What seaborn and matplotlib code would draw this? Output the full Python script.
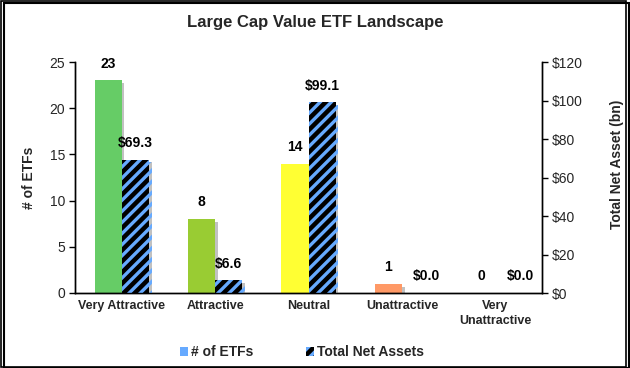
import matplotlib
matplotlib.use("Agg")
import matplotlib.pyplot as plt
import matplotlib.patheffects as pe
from matplotlib.patches import Rectangle, Patch
from matplotlib.ticker import FuncFormatter, FixedLocator
import seaborn as sns
import pandas as pd
import numpy as np

categories = ["Very Attractive", "Attractive", "Neutral", "Unattractive", "Very\nUnattractive"]
num_etfs = [23, 8, 14, 1, 0]
net_assets = [69.3, 6.6, 99.1, 0.0, 0.0]
series = ["# of ETFs", "Total Net Assets"]
count_colors = ["#66CC66", "#99CC33", "#FFFF33", "#FF9966", "#BBBBBB"]
asset_face = "#000000"
asset_hatch = "#66AAFF"

sns.set_theme(style="white")
plt.rcParams["font.family"] = ["Liberation Sans", "DejaVu Sans"]
plt.rcParams["hatch.linewidth"] = 2.4

fig = plt.figure(figsize=(6.3, 3.68), dpi=100)
ax = fig.add_axes([75/630, 1-293/368, (542-75)/630, (293-62)/368])
ax2 = ax.twinx()

df_c = pd.DataFrame({"cat": categories * 2,
                     "series": [series[0]] * 5 + [series[1]] * 5,
                     "val": num_etfs + [np.nan] * 5})
df_a = pd.DataFrame({"cat": categories * 2,
                     "series": [series[0]] * 5 + [series[1]] * 5,
                     "val": [np.nan] * 5 + net_assets})

shadow = [pe.SimplePatchShadow(offset=(2, -2), shadow_rgbFace="#999999", alpha=0.6), pe.Normal()]

sns.barplot(data=df_c, x="cat", y="val", hue="series", hue_order=series, order=categories,
            ax=ax, width=0.58, legend=False, errorbar=None, saturation=1)
sns.barplot(data=df_a, x="cat", y="val", hue="series", hue_order=series, order=categories,
            ax=ax2, width=0.58, legend=False, errorbar=None, saturation=1)

cbars = [p for p in ax.patches if np.isfinite(p.get_height())]
cbars = sorted(cbars, key=lambda p: p.get_x())
for p, col, v in zip(cbars, count_colors, num_etfs):
    p.set_facecolor(col)
    p.set_edgecolor("none")
    p.set_path_effects(shadow)
    ax.annotate(f"{v}", (p.get_x() + p.get_width()/2, p.get_height()), xytext=(0, 7),
                textcoords="offset points", ha="center", va="bottom",
                fontsize=10, fontweight="bold", color="black")
abars = [p for p in ax2.patches if np.isfinite(p.get_height())]
abars = sorted(abars, key=lambda p: p.get_x())
for p, v in zip(abars, net_assets):
    p.set_facecolor(asset_face)
    p.set_edgecolor(asset_hatch)
    p.set_linewidth(0)
    p.set_hatch("///")
    p.set_path_effects(shadow)
    dx = 8 if v == 0 else 0
    ax2.annotate(f"${v:.1f}", (p.get_x() + p.get_width()/2, p.get_height()), xytext=(dx, 7),
                 textcoords="offset points", ha="center", va="bottom",
                 fontsize=10, fontweight="bold", color="black")

ax.set_ylim(0, 25)
ax.set_yticks(range(0, 26, 5))
ax2.set_ylim(0, 120)
ax2.set_yticks(range(0, 121, 20))
ax2.yaxis.set_major_formatter(FuncFormatter(lambda v, _: f"${v:.0f}"))
ax.set_xlim(-0.5, 4.5)

ax.set_xlabel("")
ax2.set_xlabel("")
ax.set_ylabel("# of ETFs", fontsize=10, fontweight="bold", labelpad=10)
ax2.set_ylabel("Total Net Asset (bn)", fontsize=10, fontweight="bold", labelpad=20)
ax2.yaxis.label.set_y(0.555)
ax.set_xticks(range(5))
ax.set_xticklabels(categories, fontsize=9, fontweight="bold", linespacing=1.3)
ax.xaxis.set_minor_locator(FixedLocator([-0.5, 0.5, 1.5, 2.5, 3.5, 4.5]))
ax.tick_params(axis="x", which="major", length=0, pad=5)
ax.tick_params(axis="x", which="minor", length=5, direction="inout", width=1, color="black")
ax.tick_params(axis="y", length=4, direction="out", width=1, color="black", labelsize=10, pad=3)
ax2.tick_params(axis="y", length=4, direction="out", width=1, color="black", labelsize=10, pad=3)

for a in (ax, ax2):
    a.spines["top"].set_visible(False)
    for s in ("left", "right", "bottom"):
        a.spines[s].set_color("black")
        a.spines[s].set_linewidth(1)
ax.grid(False)
ax2.grid(False)

fig.suptitle("Large Cap Value ETF Landscape", x=0.5, y=1-22/368, va="center",
             fontsize=12, fontweight="bold")

handles = [Patch(facecolor=asset_hatch, edgecolor="none"),
           Patch(facecolor=asset_face, edgecolor=asset_hatch, hatch="///", linewidth=0)]
fig.legend(handles, series, loc="center", bbox_to_anchor=(302/630, 1-352/368), ncol=2,
           frameon=False, prop={"weight": "bold", "size": 10}, handlelength=0.6, handleheight=0.6,
           handletextpad=0.2, columnspacing=3.8)

fig.patches.append(Rectangle((0.002, 0.004), 0.992, 0.993, transform=fig.transFigure,
                             fill=False, edgecolor="black", linewidth=1.2))
fig.patches.append(Rectangle((0.006, 0.0), 0.992, 0.993, transform=fig.transFigure,
                             fill=False, edgecolor="black", linewidth=1.5, zorder=-1))

fig.savefig("out.png", dpi=100)
